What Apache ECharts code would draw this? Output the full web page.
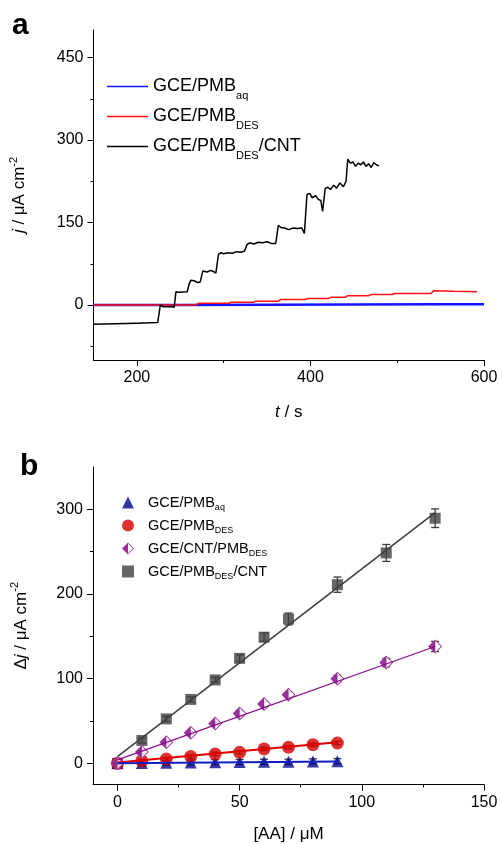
<!DOCTYPE html>
<html>
<head>
    <meta charset="utf-8">
    <title>AA amperometry</title>
    <script src="https://cdn.jsdelivr.net/npm/echarts@6/dist/echarts.min.js"></script>
</head>
<body style="margin:0">
<div id="main" style="width:502px;height:844px;"></div>
<script type="text/javascript">
// ---- panel a : j vs t ----
var tAq  = [150, 250, 350, 450, 550, 600];
var jAq  = [0, 0.2, 0.4, 0.8, 1.2, 1.5];

var tDes = [150, 268, 271, 306, 309, 334, 337, 363, 366, 394, 397, 421, 424, 440, 443, 467, 470, 494, 497, 539, 542, 565, 592];
var jDes = [0, 0, 3, 3, 5, 5, 7, 7, 10, 10, 12, 12, 14, 14, 17, 17, 19, 19, 21, 21, 26, 25, 24];

var tCnt = [150, 200, 224, 225, 227, 230, 240, 243, 245, 248, 258, 260, 262, 266, 270, 273, 276, 278, 281, 285, 288, 291, 294,
            297, 300, 305, 310, 315, 320, 324, 327, 330, 335, 340, 345, 350, 355, 360, 363, 366, 370, 375, 380, 385, 390, 393,
            396, 399, 402, 406, 409, 412, 414, 417, 420, 423, 427, 430, 434, 438, 441, 443, 446, 449, 452, 455, 458, 461, 464,
            467, 470, 473, 476, 479];
var jCnt = [-35, -33, -32, -30, 0, -3, -3, -4, 24, 23, 24, 37, 45, 44, 41, 42, 62, 64, 60, 63, 61, 58, 92,
            95, 93, 95, 94, 97, 96, 98, 110, 113, 111, 114, 113, 115, 112, 112, 145, 141, 140, 137, 140, 139, 140, 130,
            201, 203, 195, 199, 192, 190, 170, 212, 214, 210, 218, 212, 222, 215, 225, 265, 258, 260, 252, 258, 255, 260, 252,
            257, 250, 259, 255, 253];

// ---- panel b : calibration ----
var concA = [0, 10, 20, 30, 40, 50, 60, 70, 80, 90];
var djAq  = [0, 0.4, 0.7, 1.0, 1.3, 1.5, 1.8, 2.0, 2.3, 2.6];
var errAq = [1, 3, 3, 3, 3, 3, 3, 3, 3, 3];
var djDes = [0, 3, 5, 8, 11, 13, 17, 19, 22, 24];
var errDes = [1, 2, 2, 2, 2, 2, 2, 2, 2, 2];

var concB  = [0, 10, 20, 30, 40, 50, 60, 70, 90, 110, 130];
var djCnt  = [0, 13.5, 25, 36, 47, 59, 70, 81, 100, 119, 138];
var errCnt = [1, 2, 2, 2, 2, 3, 3, 3, 4, 5, 6];
var djSq   = [0, 27, 52.5, 75.5, 98.5, 124, 149, 170.5, 211, 248.5, 289.5];
var errSq  = [1, 3, 3, 3, 3, 4, 5, 7, 9, 10, 11];

// linear fits (end points)
var fitAqX = [0, 90],   fitAqY = [0.2, 2.3];
var fitDesX = [0, 90],  fitDesY = [1, 25];
var fitCntX = [0, 130], fitCntY = [4, 138];
var fitSqX = [0, 130],  fitSqY = [8, 296];

// ticks
var aXMajor = [200, 400, 600], aXMinor = [300, 500];
var aYMajor = [0, 150, 300, 450], aYMinor = [-75, 75, 225, 375];
var bXMajor = [0, 50, 100, 150], bXMinor = [25, 75, 125];
var bYMajor = [0, 100, 200, 300], bYMinor = [50, 150, 250];

var FONT = 'Liberation Sans, Arial, sans-serif';
var half = 'path://M10,0 L0,10 L10,20 Z M10,0 L20,10 L10,20 L10,18.2 L18.2,10 L10,1.8 Z';

function zip(a, b) {
    var out = [];
    for (var i = 0; i < a.length; i++) out.push([a[i], b[i]]);
    return out;
}
function bars(x, y, e) {
    var out = [];
    for (var i = 0; i < x.length; i++) out.push([x[i], y[i] - e[i], y[i] + e[i]]);
    return out;
}
function subLabel(name) {
    return name.replace(/^(.*?)_([A-Za-z]+)(.*)$/, function (m, a, s, rest) {
        return '{m|' + a + '}{s|' + s + '}' + (rest ? '{m|' + rest + '}' : '');
    });
}
function errorBar(params, api) {
    var x = api.value(0);
    var lo = api.coord([x, api.value(1)]);
    var hi = api.coord([x, api.value(2)]);
    var w = 4, st = {stroke: '#3a3a3a', lineWidth: 1.3};
    return {type: 'group', children: [
        {type: 'line', shape: {x1: lo[0], y1: lo[1], x2: hi[0], y2: hi[1]}, style: st},
        {type: 'line', shape: {x1: lo[0] - w, y1: lo[1], x2: lo[0] + w, y2: lo[1]}, style: st},
        {type: 'line', shape: {x1: hi[0] - w, y1: hi[1], x2: hi[0] + w, y2: hi[1]}, style: st}
    ]};
}
function majorAxis(grid, min, max, pos, ticks, extra) {
    var ax = {
        type: 'value', gridIndex: grid, min: min, max: max, position: pos,
        axisLine: {show: true, onZero: false, lineStyle: {color: '#000', width: 1}},
        axisTick: {show: true, length: 6, customValues: ticks, lineStyle: {color: '#000'}},
        axisLabel: {customValues: ticks, color: '#000', fontSize: 16, fontFamily: FONT, margin: 10},
        splitLine: {show: false}
    };
    for (var k in extra) ax[k] = extra[k];
    return ax;
}
function minorAxis(grid, min, max, pos, ticks) {
    return {
        type: 'value', gridIndex: grid, min: min, max: max, position: pos,
        axisLine: {show: false, onZero: false},
        axisTick: {show: true, length: 3, customValues: ticks, lineStyle: {color: '#000'}},
        axisLabel: {show: false},
        splitLine: {show: false}
    };
}

var nameStyle = {
    color: '#000', fontSize: 17, fontFamily: FONT,
    rich: {
        n: {fontSize: 17, fontFamily: FONT, color: '#000', lineHeight: 20},
        i: {fontSize: 17, fontFamily: FONT, color: '#000', fontStyle: 'italic', lineHeight: 20},
        sup: {fontSize: 11, fontFamily: FONT, color: '#000', lineHeight: 20, padding: [0, 0, 12, 0]}
    }
};

var myChart = echarts.init(document.getElementById('main'));

option = {
    animation: false,
    backgroundColor: '#fff',
    grid: [
        {left: 93, top: 30, width: 391, height: 330},
        {left: 93, top: 467, width: 391, height: 320}
    ],
    graphic: [
        {type: 'text', left: 12, top: 11, style: {text: 'a', font: 'bold 30px ' + FONT, fill: '#000'}},
        {type: 'text', left: 20, top: 452, style: {text: 'b', font: 'bold 30px ' + FONT, fill: '#000'}}
    ],
    legend: [
        {
            orient: 'vertical', left: 107, top: 72, padding: 0, itemWidth: 41, itemHeight: 1.5, itemGap: 1,
            data: [{name: 'GCE/PMB_aq', icon: 'rect'}, {name: 'GCE/PMB_DES', icon: 'rect'}, {name: 'GCE/PMB_DES/CNT', icon: 'rect'}],
            formatter: subLabel,
            textStyle: {
                color: '#000', fontSize: 18, fontFamily: FONT,
                rich: {
                    m: {fontSize: 18, fontFamily: FONT, color: '#000', lineHeight: 22},
                    s: {fontSize: 11, fontFamily: FONT, color: '#000', lineHeight: 22, padding: [18, 0, 0, 0]}
                }
            }
        },
        {
            orient: 'vertical', left: 122, top: 493, padding: 0, itemWidth: 12, itemHeight: 12, itemGap: 4,
            data: ['GCE/PMB_aq ', 'GCE/PMB_DES ', {name: 'GCE/CNT/PMB_DES', icon: half}, 'GCE/PMB_DES/CNT '],
            formatter: function (n) { return '{g| }' + subLabel(n.trim()); },
            textStyle: {
                color: '#000', fontSize: 14.5, fontFamily: FONT,
                rich: {
                    g: {width: 9, lineHeight: 18},
                    m: {fontSize: 14.5, fontFamily: FONT, color: '#000', lineHeight: 18},
                    s: {fontSize: 9, fontFamily: FONT, color: '#000', lineHeight: 18, padding: [10, 0, 0, 0]}
                }
            }
        }
    ],
    xAxis: [
        majorAxis(0, 150, 600, 'bottom', aXMajor, {
            name: '{i|t}{n| / s}', nameLocation: 'middle', nameGap: 42, nameTextStyle: nameStyle
        }),
        minorAxis(0, 150, 600, 'bottom', aXMinor),
        majorAxis(1, -10, 150, 'bottom', bXMajor, {
            name: '{n|[AA] / μM}', nameLocation: 'middle', nameGap: 40, nameTextStyle: nameStyle
        }),
        minorAxis(1, -10, 150, 'bottom', bXMinor)
    ],
    yAxis: [
        majorAxis(0, -100, 500, 'left', aYMajor, {
            name: '{i|j}{n| / μA cm}{sup|-2}', nameLocation: 'middle', nameGap: 64, nameRotate: 90, nameTextStyle: nameStyle
        }),
        minorAxis(0, -100, 500, 'left', aYMinor),
        majorAxis(1, -25, 350, 'left', bYMajor, {
            name: '{n|Δ}{i|j}{n| / μA cm}{sup|-2}', nameLocation: 'middle', nameGap: 62, nameRotate: 90, nameTextStyle: nameStyle
        }),
        minorAxis(1, -25, 350, 'left', bYMinor)
    ],
    series: [
        // panel a
        {name: 'GCE/PMB_aq', type: 'line', xAxisIndex: 0, yAxisIndex: 0, data: zip(tAq, jAq), symbol: 'none',
            lineStyle: {color: '#1414ff', width: 2.5}, itemStyle: {color: '#1414ff'}},
        {name: 'GCE/PMB_DES', type: 'line', xAxisIndex: 0, yAxisIndex: 0, data: zip(tDes, jDes), symbol: 'none',
            lineStyle: {color: '#ff1010', width: 1.5}, itemStyle: {color: '#ff1010'}},
        {name: 'GCE/PMB_DES/CNT', type: 'line', xAxisIndex: 0, yAxisIndex: 0, data: zip(tCnt, jCnt), symbol: 'none',
            lineStyle: {color: '#000', width: 1.5}, itemStyle: {color: '#000'}},

        // panel b : fits
        {type: 'line', xAxisIndex: 2, yAxisIndex: 2, data: zip(fitSqX, fitSqY), symbol: 'none',
            lineStyle: {color: '#404040', width: 1.6}},
        {type: 'line', xAxisIndex: 2, yAxisIndex: 2, data: zip(fitCntX, fitCntY), symbol: 'none',
            lineStyle: {color: '#8b0a8b', width: 1.3}},
        {type: 'line', xAxisIndex: 2, yAxisIndex: 2, data: zip(fitDesX, fitDesY), symbol: 'none',
            lineStyle: {color: '#e00000', width: 2}},
        {type: 'line', xAxisIndex: 2, yAxisIndex: 2, data: zip(fitAqX, fitAqY), symbol: 'none',
            lineStyle: {color: '#1020c0', width: 2}},

        // panel b : points
        {name: 'GCE/PMB_DES/CNT ', type: 'scatter', xAxisIndex: 2, yAxisIndex: 2, data: zip(concB, djSq),
            symbol: 'rect', symbolSize: 11, itemStyle: {color: '#404040'}},
        {name: 'GCE/PMB_aq ', type: 'scatter', xAxisIndex: 2, yAxisIndex: 2, data: zip(concA, djAq),
            symbol: 'triangle', symbolSize: 12, itemStyle: {color: '#06068f'}},
        {name: 'GCE/PMB_DES ', type: 'scatter', xAxisIndex: 2, yAxisIndex: 2, data: zip(concA, djDes),
            symbol: 'circle', symbolSize: 13, itemStyle: {color: '#d60000'}},
        {type: 'scatter', xAxisIndex: 2, yAxisIndex: 2, data: zip(concB, djCnt),
            symbol: 'diamond', symbolSize: 14, itemStyle: {color: '#fff'}},
        {name: 'GCE/CNT/PMB_DES', type: 'scatter', xAxisIndex: 2, yAxisIndex: 2, data: zip(concB, djCnt),
            symbol: half, symbolSize: 14, itemStyle: {color: '#800080'}},

        // panel b : error bars
        {type: 'custom', xAxisIndex: 2, yAxisIndex: 2, renderItem: errorBar, data: bars(concA, djAq, errAq), encode: {x: 0, y: [1, 2]}},
        {type: 'custom', xAxisIndex: 2, yAxisIndex: 2, renderItem: errorBar, data: bars(concA, djDes, errDes), encode: {x: 0, y: [1, 2]}},
        {type: 'custom', xAxisIndex: 2, yAxisIndex: 2, renderItem: errorBar, data: bars(concB, djCnt, errCnt), encode: {x: 0, y: [1, 2]}},
        {type: 'custom', xAxisIndex: 2, yAxisIndex: 2, renderItem: errorBar, data: bars(concB, djSq, errSq), encode: {x: 0, y: [1, 2]}}
    ]
};
myChart.setOption(option);
</script>
</body>
</html>
